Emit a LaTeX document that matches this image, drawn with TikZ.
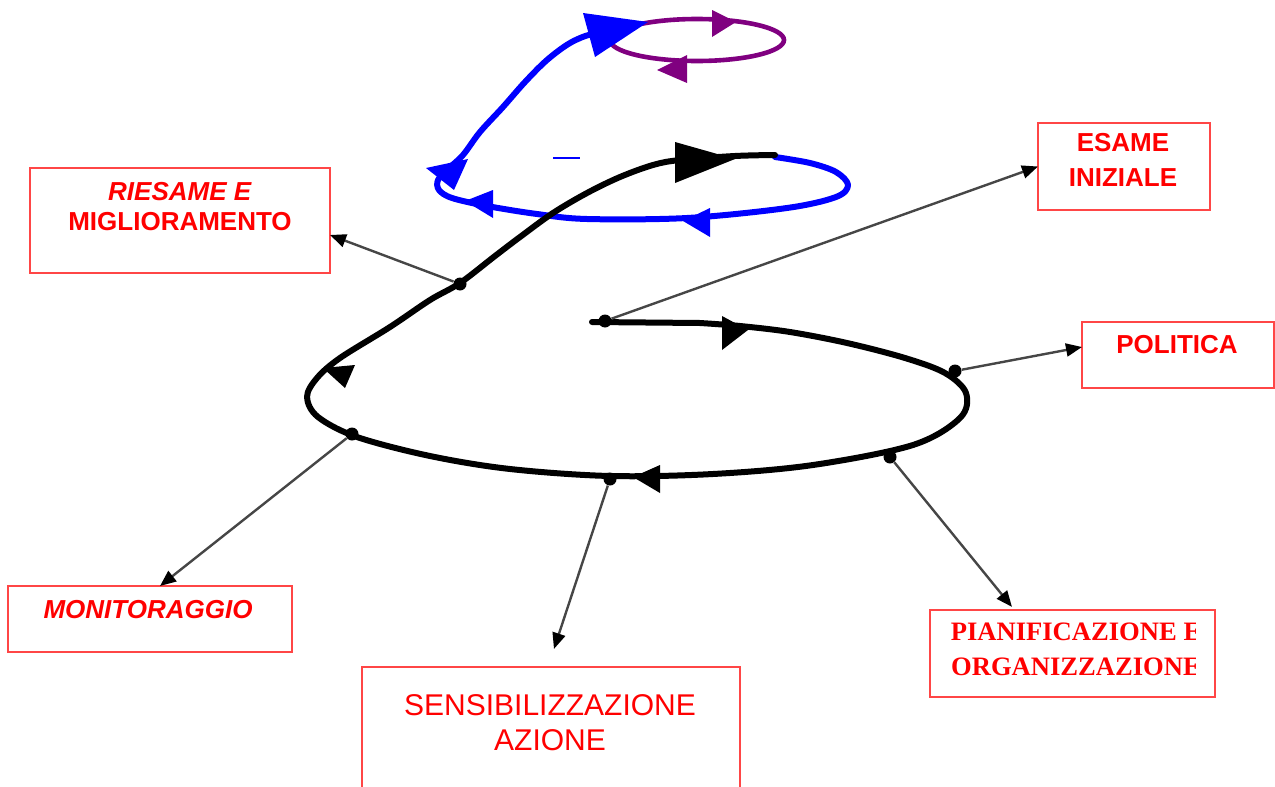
\documentclass[tikz,border=0pt]{standalone}
\usepackage{fontspec}
\setmainfont{Liberation Sans}
\newfontfamily\timesfont{Liberation Serif}
\usetikzlibrary{arrows.meta}
\definecolor{boxred}{RGB}{255,70,70}
\definecolor{txtred}{RGB}{255,0,0}
\definecolor{loopblue}{RGB}{0,0,255}
\definecolor{looppurple}{RGB}{128,0,128}
\definecolor{linkgray}{RGB}{70,70,70}
\tikzset{
  box/.style={draw=boxred, line width=1.1pt, inner sep=0pt, outer sep=0pt, fill=none},
  lbl/.style={text=txtred, font=\bfseries\fontsize{13}{15}\selectfont, align=center, inner sep=0pt},
  spiral/.style={line width=3pt, line join=round, line cap=round},
  link/.style={draw=linkgray, line width=1.2pt, -{Triangle[length=8pt,width=6.5pt,color=black]}},
  spot/.style={circle, fill=black, inner sep=0pt, minimum size=6.5pt}
}
\begin{document}
\begin{tikzpicture}[x=0.5pt,y=-0.5pt]
\useasboundingbox (0,0) rectangle (1275,787);
\clip (0,0) rectangle (1275,787);

% upper (purple) loop
\draw[looppurple, line width=2.3pt] (697,40) ellipse [x radius=87, y radius=21];
\fill[looppurple] (712,10) -- (712,37) -- (736,22) -- cycle;
\fill[looppurple] (687,55) -- (687,83) -- (657,70) -- cycle;

% middle (blue) loop
\draw[loopblue, spiral] plot[smooth, tension=0.55] coordinates {
  (775,157) (810,163) (836,172) (848,185) (836,197) (787,208) (687,218)
  (587,219) (537,214) (487,206) (452,198) (439,190) (438,180) (448,169)
  (463,155) (480,132) (503,107) (525,82) (547,60) (570,43) (592,34) (620,30)};
\fill[loopblue] (583,13) -- (595,57) -- (648,22) -- cycle;
\fill[loopblue] (426,168) -- (468,159) -- (454,190) -- cycle;
\fill[loopblue] (493,190) -- (493,218) -- (465,201) -- cycle;
\fill[loopblue] (710,208) -- (710,237) -- (683,221) -- cycle;
\draw[loopblue, line width=1pt] (553,158) -- (580,158);

% lower (black) loop
\draw[black, spiral] (592,322) -- plot[smooth, tension=0.55] coordinates {
  (700,323) (740,326) (790,332) (847,343) (905,358) (945,373) (966,393)
  (960,418) (913,445) (813,465) (713,474) (610,476) (510,469) (430,456)
  (357,437) (318,417) (307,397) (317,378) (340,358) (390,327) (430,300)
  (460,283) (495,256) (520,237) (553,213) (587,193) (620,177) (653,165)
  (680,160) (735,156) (775,155)};
\fill[black] (675,142) -- (675,183) -- (735,159) -- cycle;
\fill[black] (722,316) -- (722,350) -- (748,330) -- cycle;
\fill[black] (660,465) -- (660,493) -- (633,477) -- cycle;
\fill[black] (323,368) -- (355,365) -- (345,388) -- cycle;

% points on the loop where each phase starts
\node[spot] (dE)  at (605,321) {};
\node[spot] (dP)  at (955,371) {};
\node[spot] (dPi) at (890,457) {};
\node[spot] (dS)  at (610,479) {};
\node[spot] (dM)  at (352,434) {};
\node[spot] (dR)  at (460,284) {};

% phase boxes
\node[box, minimum width=150pt, minimum height=52.5pt] (ries) at (180,220.5) {};
\node[lbl] at (180,207) {\textit{RIESAME E}\\MIGLIORAMENTO};

\node[box, minimum width=86pt, minimum height=43.5pt] (esa) at (1124,166.5) {};
\node[lbl, font=\bfseries\fontsize{13}{17.5}\selectfont] at (1123,159.5) {ESAME\\INIZIALE};

\node[box, minimum width=96pt, minimum height=33pt] (pol) at (1178,355) {};
\node[lbl] at (1177,345) {POLITICA};

\node[box, minimum width=142pt, minimum height=33pt] (mon) at (150,619) {};
\node[lbl] at (148,610) {\textit{MONITORAGGIO}};

\node[box, minimum width=189pt, minimum height=70pt] (sens) at (551,737) {};
\node[lbl, font=\fontsize{15}{17.5}\selectfont] at (550,722.5) {SENSIBILIZZAZIONE\\AZIONE};

\node[box, minimum width=142.5pt, minimum height=43.5pt] (pian) at (1072.5,653.5) {};
\begin{scope}
  \clip (936,612) rectangle (1195,695);
  \node[lbl, font=\timesfont\bfseries\fontsize{13.3}{17.5}\selectfont] at (1076,649.5) {PIANIFICAZIONE E\\ORGANIZZAZIONE};
\end{scope}

% links from the loop to the phases
\draw[link] (dE)  -- (esa.west);
\draw[link] (dP)  -- ([yshift=4pt]pol.west);
\draw[link, shorten >=2pt] (dPi) -- ([xshift=-29pt]pian.north);
\draw[link, shorten >=9.5pt] (dS) -- ([xshift=-1.5pt]sens.north);
\draw[link] (dM)  -- ([xshift=5pt]mon.north);
\draw[link] (dR)  -- ([yshift=-7.25pt]ries.east);
\end{tikzpicture}
\end{document}
